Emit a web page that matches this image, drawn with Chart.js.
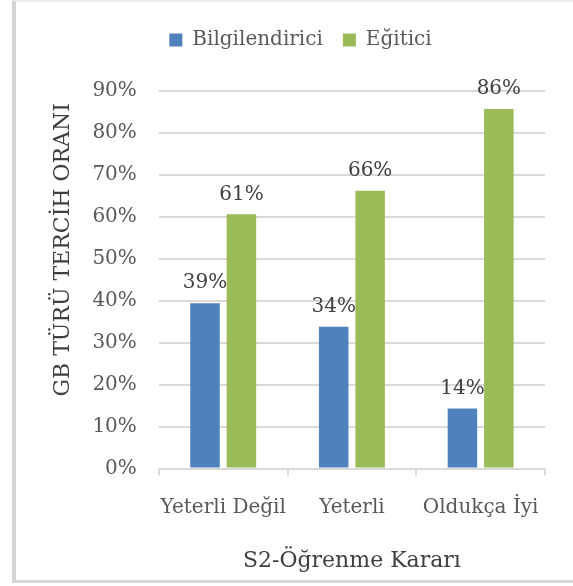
<!DOCTYPE html>
<html>
<head>
<meta charset="utf-8">
<script src="https://cdn.jsdelivr.net/npm/chart.js@4"></script>
<style>
  body { margin: 0; background: #fff; }
  #frame {
    position: absolute; left: 12px; top: 0; width: 557px; height: 578px;
    border-left: 4px solid #d4d4d4; border-top: 2px solid #ececec;
    border-right: 1px solid #e6e6e6; border-bottom: 3px solid #d9d9d9;
  }
  #chart { position: absolute; left: 0; top: 0; }
</style>
</head>
<body>
<div id="frame"></div>
<canvas id="chart" width="573" height="586"></canvas>
<script>
// Chart data
const categories = ['Yeterli Değil', 'Yeterli', 'Oldukça İyi'];
const bilgilendirici = [39.4, 33.8, 14.3];
const egitici = [60.6, 66.2, 85.7];
const yTicks = [0, 10, 20, 30, 40, 50, 60, 70, 80, 90];
const yTitle = 'GB TÜRÜ TERCİH ORANI';

const FONT = 'DejaVu Serif';
const TEXT = '#595959';

// Draws the rounded percentage above each bar
const valueLabels = {
    id: 'valueLabels',
    afterDatasetsDraw(chart) {
        const ctx = chart.ctx;
        ctx.save();
        ctx.font = '20px "' + FONT + '"';
        ctx.fillStyle = '#404040';
        ctx.textAlign = 'center';
        ctx.textBaseline = 'bottom';
        chart.data.datasets.forEach((ds, i) => {
            chart.getDatasetMeta(i).data.forEach((bar, j) => {
                ctx.fillText(Math.round(ds.data[j]) + '%', bar.x, bar.y - 10);
            });
        });
        ctx.restore();
    }
};

// Extra room under the legend, and nudge it a little to the right
const legendSpacing = {
    id: 'legendSpacing',
    beforeInit(chart) {
        const fit = chart.legend.fit;
        chart.legend.fit = function () {
            fit.call(this);
            this.height += 31;
        };
    },
    afterLayout(chart) {
        chart.legend.left += 6;
        chart.legend.right += 6;
    }
};

// Y title sits a bit above the middle of the plot, like the original
const yTitleDraw = {
    id: 'yTitleDraw',
    afterDraw(chart) {
        const ctx = chart.ctx;
        const a = chart.chartArea;
        const y = chart.scales.y;
        ctx.save();
        ctx.font = '22px "' + FONT + '"';
        ctx.fillStyle = '#404040';
        ctx.textAlign = 'center';
        ctx.textBaseline = 'middle';
        ctx.translate(y.left + 19, (a.top + a.bottom) / 2 - 30);
        ctx.rotate(-Math.PI / 2);
        ctx.fillText(yTitle, 0, 0);
        ctx.restore();
    }
};

const ctx = document.getElementById('chart').getContext('2d');
const chart = new Chart(ctx, {
    type: 'bar',
    data: {
        labels: categories,
        datasets: [{
            label: 'Bilgilendirici',
            data: bilgilendirici,
            backgroundColor: '#4f81bd'
        }, {
            label: 'Eğitici',
            data: egitici,
            backgroundColor: '#9bbb59'
        }]
    },
    options: {
        responsive: false,
        animation: false,
        categoryPercentage: 0.566,
        barPercentage: 0.81,
        layout: { padding: { top: 10, right: 28, bottom: 12, left: 44 } },
        plugins: {
            legend: {
                position: 'top',
                labels: {
                    font: { family: FONT, size: 20 },
                    color: TEXT,
                    boxWidth: 13,
                    boxHeight: 13,
                    padding: 20
                }
            },
            tooltip: { enabled: false }
        },
        scales: {
            x: {
                grid: {
                    drawOnChartArea: false,
                    color: '#d9d9d9',
                    lineWidth: 2,
                    tickLength: 7
                },
                border: { color: '#d9d9d9', width: 2 },
                ticks: {
                    font: { family: FONT, size: 20 },
                    color: TEXT,
                    padding: 20,
                    maxRotation: 0,
                    autoSkip: false
                },
                title: {
                    display: true,
                    text: 'S2-Öğrenme Kararı',
                    font: { family: FONT, size: 22 },
                    color: '#404040',
                    padding: { top: 8, bottom: 0 }
                }
            },
            y: {
                min: 0,
                max: 90,
                afterBuildTicks(axis) {
                    axis.ticks = yTicks.map(v => ({ value: v }));
                },
                grid: { color: '#d9d9d9', lineWidth: 2, drawTicks: false },
                border: { display: false },
                ticks: {
                    font: { family: FONT, size: 20 },
                    color: TEXT,
                    padding: 22,
                    callback: v => v + '%'
                },
                title: {
                    // space is kept here, the text is drawn by yTitleDraw
                    display: true,
                    text: yTitle,
                    font: { family: FONT, size: 22 },
                    color: 'rgba(0,0,0,0)',
                    padding: { top: 0, bottom: 0 }
                }
            }
        }
    },
    plugins: [valueLabels, legendSpacing, yTitleDraw]
});
</script>
</body>
</html>
